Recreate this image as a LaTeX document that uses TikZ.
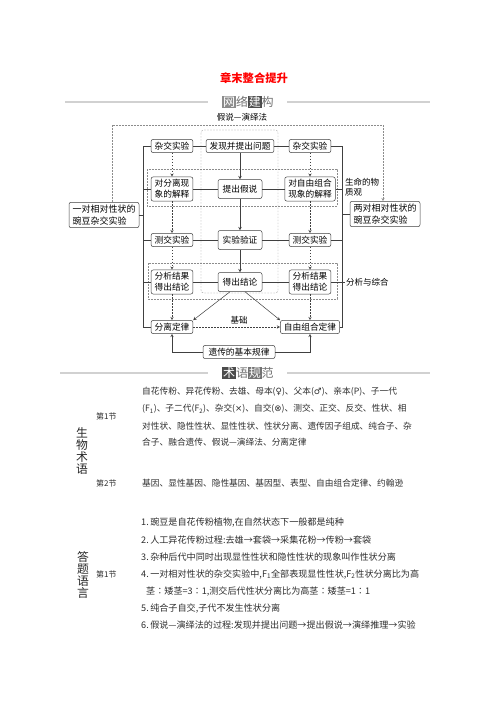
\documentclass[tikz,border=0pt]{standalone}
\usepackage{fontspec}
\setmainfont{Noto Sans CJK SC}
\newfontfamily\symfont{DejaVu Sans}
\usepackage{xcolor}
\XeTeXlinebreaklocale "zh"
\XeTeXlinebreakskip=0pt plus 1pt
\newcommand{\hdbox}[2]{{\setlength{\fboxsep}{0.8pt}\colorbox{#1}{\textcolor{white}{#2}}}}
\tikzset{
  % style for the boxes of the map
  mapbox/.style={draw=black!75, line width=0.5pt, rounded corners=2pt, fill=white,
    inner xsep=3.5pt, inner ysep=2.5pt, align=center,
    font=\fontsize{8.7}{11}\selectfont},
  % style for the boxes of the middle column
  midbox/.style={mapbox, minimum width=44pt, minimum height=19pt},
  % dashed frames round rows and columns
  dframe/.style={draw=black!45, line width=0.4pt, dash pattern=on 1.6pt off 1.4pt},
  link/.style={draw=black!75, line width=0.5pt},
  arr/.style={link, ->, >=stealth},
  darr/.style={arr, dash pattern=on 1.6pt off 1.4pt},
  headline/.style={draw=black!18, line width=1.2pt},
  note/.style={font=\fontsize{8.5}{10}\selectfont, inner sep=0pt},
  body/.style={font=\fontsize{8.7}{10}\selectfont, text=black!82, anchor=west, inner sep=0pt},
  item/.style={body, font=\fontsize{9.1}{10}\selectfont},
  sec/.style={body, font=\fontsize{8}{10}\selectfont},
  vert/.style={font=\fontsize{11.8}{12.3}\selectfont, align=center, text=black!85, inner sep=0pt},
}

\begin{document}
\begin{tikzpicture}[x=1pt,y=-1pt]
\useasboundingbox (0,0) rectangle (496,702);
\fill[white] (0,0) rectangle (496,702);

\node[font=\fontsize{11.3}{13}\selectfont\bfseries, text=red] (title) at (254,78) {章末整合提升};
\node[font=\fontsize{12}{14}\selectfont, text=black!55] (head1) at (248,102) {\hdbox{black!45}{网}络\hdbox{black!70}{建}构};
\draw[headline] (65,102) -- (208,102);
\draw[headline] (287,102) -- (430,102);

\draw[dframe, rounded corners=3pt] (201,130) rectangle (278,293);
\draw[dframe] (147,169) rectangle (337,206);
\draw[dframe] (148,263) rectangle (337,299);

\node[mapbox] (l1) at (172,146) {杂交实验};
\node[mapbox] (l2) at (172,189) {对分离现\\象的解释};
\node[mapbox] (l3) at (172,240) {测交实验};
\node[mapbox] (l4) at (172,282) {分析结果\\得出结论};
\node[mapbox] (l5) at (172,327) {分离定律};
\node[mapbox] (m1) at (240,146) {发现并提出问题};
\node[midbox] (m2) at (240,189) {提出假说};
\node[midbox] (m3) at (240,240) {实验验证};
\node[midbox] (m4) at (240,282) {得出结论};
\node[mapbox] (r1) at (310,146) {杂交实验};
\node[mapbox] (r2) at (310,189) {对自由组合\\现象的解释};
\node[mapbox] (r3) at (310,240) {测交实验};
\node[mapbox] (r4) at (310,282) {分析结果\\得出结论};
\node[mapbox] (r5) at (310,327) {自由组合定律};
\node[mapbox, align=left, font=\fontsize{9}{12}\selectfont] (one) at (104,215) {一对相对性状的\\豌豆杂交实验};
\node[mapbox, align=left, font=\fontsize{9}{12}\selectfont] (two) at (385,214) {两对相对性状的\\豌豆杂交实验};
\node[mapbox, minimum width=72pt] (law) at (239,352) {遗传的基本规律};

\node[note] (hd) at (242,117) {假说—演绎法};
\node[note, anchor=west, align=left] (matter) at (345,187) {生命的物\\质观};
\node[note, anchor=west] (synth) at (346,282) {分析与综合};
\node[note] (base) at (239,320) {基础};

\coordinate (lbar) at (143,0);
\coordinate (rbar) at (342,0);

\draw[dframe, ->, >=stealth] ([xshift=8pt]one.north) |- (240,125) -| ([xshift=-2pt]two.north);

\draw[link] (l1) -- (m1) -- (r1);
\draw[link] (l2) -- (m2) -- (r2);
\draw[link] (l3) -- (m3) -- (r3);
\draw[link] (l4) -- (m4) -- (r4);
\draw[arr] (m1) -- (m2);
\draw[arr] (m2) -- (m3);
\draw[arr] (m3) -- (m4);
\draw[darr] (l1) -- (l2);
\draw[darr] (l2) -- (l3);
\draw[darr] (l3) -- (l4);
\draw[darr] (l4) -- (l5);
\draw[darr] (r1) -- (r2);
\draw[darr] (r2) -- (r3);
\draw[darr] (r3) -- (r4);
\draw[darr] (r4) -- (r5);

\draw[link] (l1.west) -| (l5.west -| lbar) -- (l5.west);
\foreach \n in {l2,l3,l4}
  \draw[link] (\n.west) -- (\n.west -| lbar);
\draw[link] (one.east) -- (one.east -| lbar);
\draw[link] (r1.east) -| (r5.east -| rbar) -- (r5.east);
\foreach \n in {r2,r3}
  \draw[link] (\n.east) -- (\n.east -| rbar);
\draw[link] (r4.east) -- ([xshift=3pt]r4.east -| rbar);
\draw[link] (two.west) -- (two.west -| rbar);

\draw[arr] ([xshift=-10pt]m4.south) -- (l5.north east);
\draw[arr] ([xshift=5pt]m4.south) -- (r5.north west);
\draw[darr] (l5) -- (r5);
\draw[arr] (law.west) -| (l5);
\draw[arr] (law.east) -| (r5);

\node[font=\fontsize{12}{14}\selectfont, text=black!55] (head2) at (248,373) {\hdbox{black!70}{术}语\hdbox{black!55}{规}范};
\draw[headline] (60,373) -- (208,373);
\draw[headline] (287,373) -- (430,373);

\node[vert] (terms) at (82,451) {生\\物\\术\\语};
\node[sec] (s1) at (96,416) {第1节};
\node[body, text width=275pt] (t1) at (142,392) {\parfillskip=0pt 自花传粉、异花传粉、去雄、母本({\symfont ♀})、父本({\symfont ♂})、亲本(P)、子一代};
\node[body, text width=275pt] (t2) at (142,409) {\parfillskip=0pt (F\textsubscript{1})、子二代(F\textsubscript{2})、杂交({\symfont ×})、自交({\symfont ⊗})、测交、正交、反交、性状、相};
\node[body, text width=275pt] (t3) at (142,426) {\parfillskip=0pt 对性状、隐性性状、显性性状、性状分离、遗传因子组成、纯合子、杂};
\node[body] (t4) at (142,442) {合子、融合遗传、假说—演绎法、分离定律};
\node[sec] (s2) at (96,483) {第2节};
\node[body] (t5) at (142,483) {基因、显性基因、隐性基因、基因型、表型、自由组合定律、约翰逊};

\node[vert] (answer) at (83,575) {答\\题\\语\\言};
\node[sec] (s3) at (96,574) {第1节};
\node[item] (i1) at (141,522) {1.\,豌豆是自花传粉植物,在自然状态下一般都是纯种};
\node[item] (i2) at (141,540) {2.\,人工异花传粉过程:去雄→套袋→采集花粉→传粉→套袋};
\node[item] (i3) at (141,557) {3.\,杂种后代中同时出现显性性状和隐性性状的现象叫作性状分离};
\node[item] (i4) at (141,574) {4.\,一对相对性状的杂交实验中,F\textsubscript{1}全部表现显性性状,F\textsubscript{2}性状分离比为高};
\node[item] (i4b) at (146,591) {茎∶矮茎=3∶1,测交后代性状分离比为高茎∶矮茎=1∶1};
\node[item] (i5) at (141,608) {5.\,纯合子自交,子代不发生性状分离};
\node[item] (i6) at (141,625) {6.\,假说—演绎法的过程:发现并提出问题→提出假说→演绎推理→实验};
\end{tikzpicture}
\end{document}
